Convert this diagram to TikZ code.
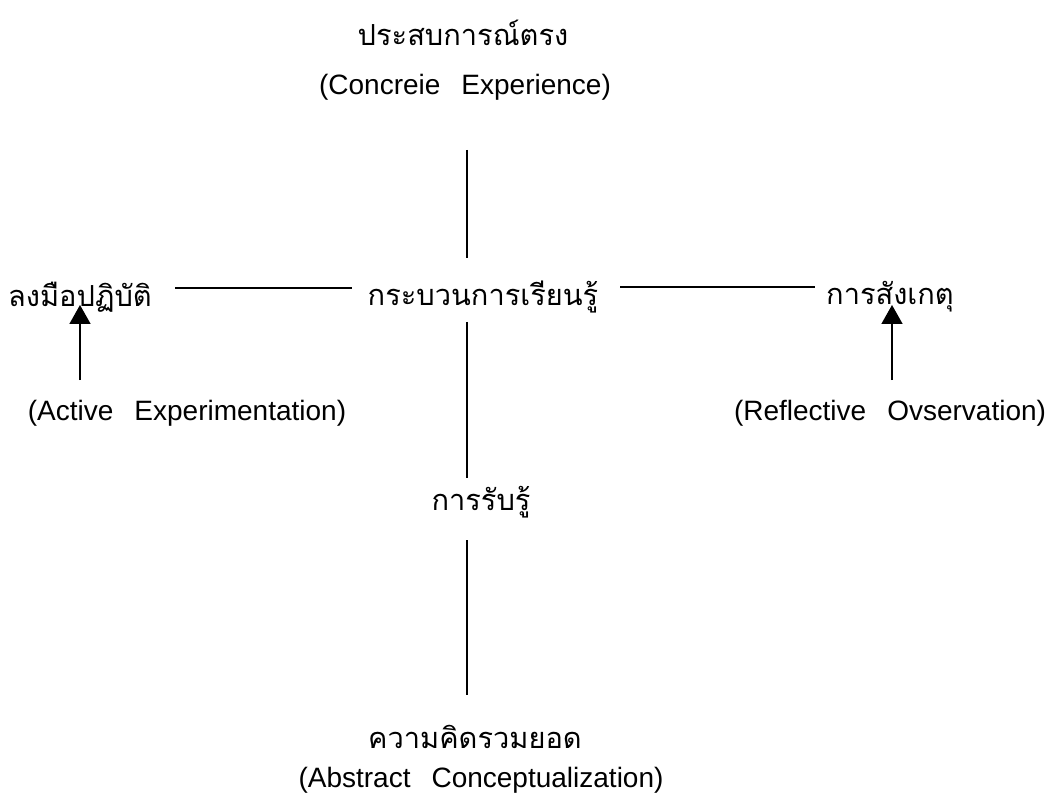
\documentclass[tikz,border=0pt]{standalone}
\usepackage{fontspec}
\setmainfont{Liberation Sans}
\newfontfamily\thaifont[Script=Thai]{Loma}
\usetikzlibrary{arrows.meta}
\begin{document}
\begin{tikzpicture}[x=1pt,y=-1pt,
  thai/.style={font=\thaifont\fontsize{29}{32}\selectfont, inner sep=0pt, anchor=center},
  latin/.style={font=\fontsize{28}{31}\selectfont, inner sep=0pt, anchor=center},
  conn/.style={line width=1.7pt},
  upar/.style={line width=1.7pt, -{Triangle[width=21pt,length=19pt]}}]
\useasboundingbox (0,0) rectangle (1055,802);
\node[thai] (ce) at (463,33) {ประสบการณ์ตรง};
\node[latin] (cen) at (465,87) {(Concreie\hspace{0.75em}Experience)};
\node[thai] (lp) at (483,297) {กระบวนการเรียนรู้};
\node[thai] (ae) at (80,297) {ลงมือปฏิบัติ};
\node[latin] (aen) at (187,413) {(Active\hspace{0.75em}Experimentation)};
\node[thai] (ro) at (890,297) {การสังเกตุ};
\node[latin] (ron) at (890,413) {(Reflective\hspace{0.75em}Ovservation)};
\node[thai] (pc) at (481,502) {การรับรู้};
\node[thai] (ac) at (475,737) {ความคิดรวมยอด};
\node[latin] (acn) at (481,780) {(Abstract\hspace{0.75em}Conceptualization)};
\coordinate (t1) at (467,150); \coordinate (t2) at (467,258);
\coordinate (m1) at (467,322); \coordinate (m2) at (467,478);
\coordinate (b1) at (467,540); \coordinate (b2) at (467,695);
\coordinate (l1) at (175,288); \coordinate (l2) at (352,288);
\coordinate (r1) at (620,287); \coordinate (r2) at (815,287);
\coordinate (la) at (80,380); \coordinate (lt) at (80,305);
\coordinate (ra) at (892,380); \coordinate (rt) at (892,305);
\draw[conn] (t1) -- (t2);
\draw[conn] (m1) -- (m2);
\draw[conn] (b1) -- (b2);
\draw[conn] (l1) -- (l2);
\draw[conn] (r1) -- (r2);
\draw[upar] (la) -- (lt);
\draw[upar] (ra) -- (rt);
\end{tikzpicture}
\end{document}
